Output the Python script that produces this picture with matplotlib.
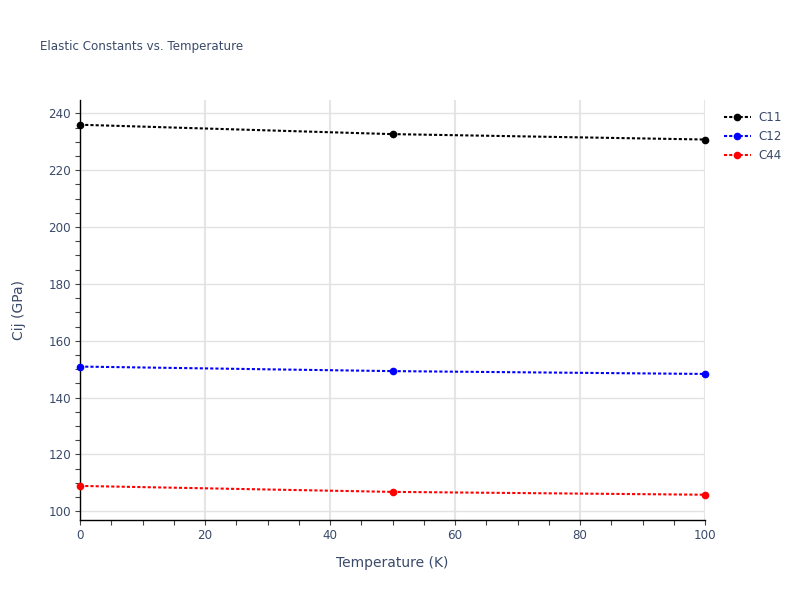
import numpy as np
import matplotlib.pyplot as plt
from matplotlib.ticker import MultipleLocator

temperature = [0, 50, 100]
c11 = [236.0, 232.7, 230.8]
c12 = [150.9, 149.3, 148.3]
c44 = [108.9, 106.8, 105.8]
series = [('C11', c11, 'black'), ('C12', c12, 'blue'), ('C44', c44, 'red')]

plt.rcParams['font.family'] = ['DejaVu Sans']
text_col = '#3a4a6a'

fig = plt.figure(figsize=(8, 6), dpi=100)
ax = fig.add_axes([0.1, 0.1333, 0.78125, 0.7])

for name, vals, col in series:
    ax.plot(temperature, vals, color=col, linestyle=(0, (1.5, 1.0)), linewidth=1.5,
            marker='o', markersize=4.5, label=name, clip_on=False, zorder=3)

ax.set_xlim(0, 100)
ax.set_ylim(96.9, 244.7)
ax.xaxis.set_major_locator(MultipleLocator(20))
ax.xaxis.set_minor_locator(MultipleLocator(5))
ax.yaxis.set_major_locator(MultipleLocator(20))
ax.yaxis.set_minor_locator(MultipleLocator(5))

ax.grid(True, axis='x', which='major', color='#e5e5e5', linewidth=1.5)
ax.grid(True, axis='y', which='major', color='#e2e2e2', linewidth=1.0)
ax.set_axisbelow(True)

for s in ['top', 'right']:
    ax.spines[s].set_visible(False)
for s in ['left', 'bottom']:
    ax.spines[s].set_color('black')
    ax.spines[s].set_linewidth(1.0)

ax.tick_params(which='both', length=3.5, width=0.8, color='#444444', direction='out')
ax.tick_params(which='major', pad=3, labelsize=8.6, labelcolor=text_col)

ax.set_xlabel('Temperature (K)', fontsize=10, color=text_col, labelpad=10)
ax.set_ylabel('Cij (GPa)', fontsize=10, color=text_col, labelpad=16)

fig.text(0.05, 0.923, 'Elastic Constants vs. Temperature', fontsize=8.6, color=text_col,
         va='center', ha='left')

leg = ax.legend(loc='upper left', bbox_to_anchor=(1.022, 0.985), frameon=False,
                fontsize=8.6, handlelength=2.3, labelspacing=0.5, handletextpad=0.65,
                borderaxespad=0)
for t in leg.get_texts():
    t.set_color(text_col)

fig.savefig('out.png', dpi=100, facecolor='white')
